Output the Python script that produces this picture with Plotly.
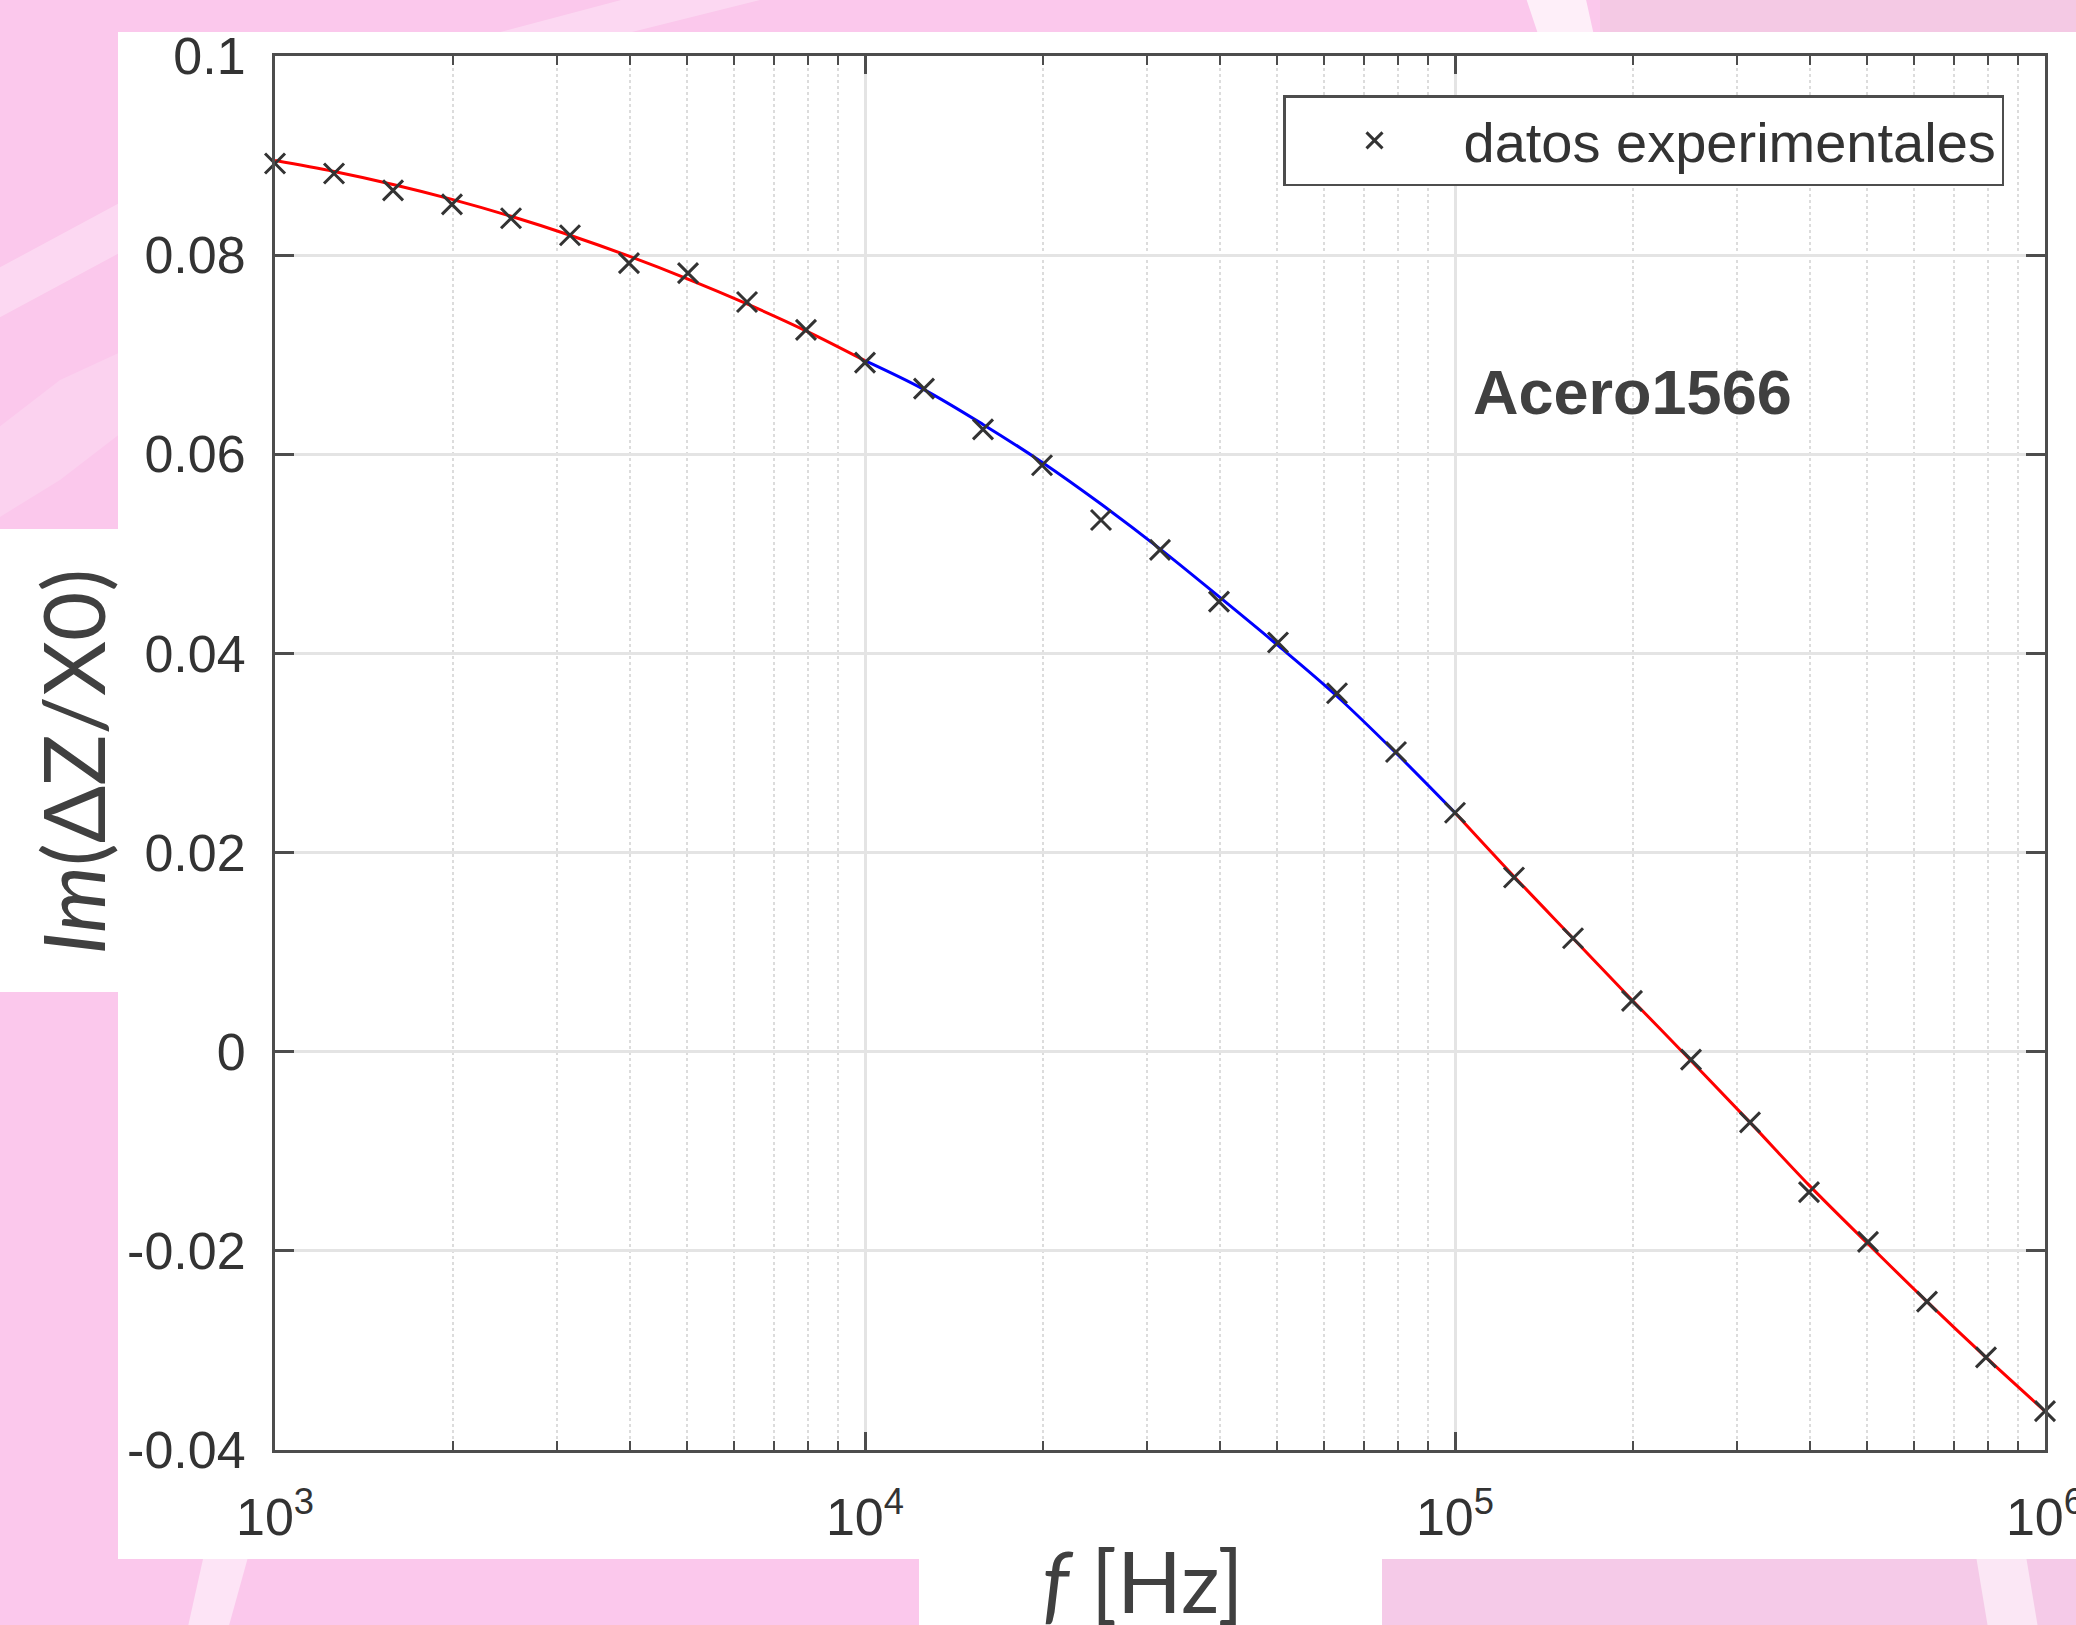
import plotly.graph_objects as go

# ---------------- data ----------------
freq_hz = [1000, 1259, 1585, 1995, 2512, 3162, 3981, 5012, 6310, 7943,
           10000, 12589, 15849, 19953, 25119, 31623, 39811, 50119, 63096, 79433,
           100000, 125893, 158489, 199526, 251189, 316228, 398107, 501187, 630957, 794328,
           1000000]

im_datos = [0.0892, 0.0882, 0.0865, 0.0851, 0.0837, 0.0820, 0.0792, 0.0782, 0.0753, 0.0725,
            0.0692, 0.0666, 0.0625, 0.0589, 0.0534, 0.0504, 0.0452, 0.0411, 0.0360, 0.0301,
            0.0240, 0.0175, 0.0114, 0.0051, -0.0008, -0.0071, -0.0141, -0.0191, -0.0251, -0.0307,
            -0.0361]

# fitted curve, three ranges (red / blue / red)
fit_lo_freq = freq_hz[0:11]
fit_lo_vals = [0.0895, 0.0884, 0.0871, 0.0856, 0.0839, 0.0820, 0.0799, 0.0776, 0.0751, 0.0724, 0.0694]
fit_mid_freq = freq_hz[10:21]
fit_mid_vals = [0.0694, 0.0665, 0.0630, 0.0592, 0.0550, 0.0505, 0.0457, 0.0408, 0.0357, 0.0300, 0.0240]
fit_hi_freq = freq_hz[20:31]
fit_hi_vals = [0.0240, 0.0176, 0.0114, 0.0052, -0.0009, -0.0071, -0.0134, -0.0193, -0.0251, -0.0307, -0.0361]

y_tick_vals = [-0.04, -0.02, 0, 0.02, 0.04, 0.06, 0.08, 0.1]
y_tick_text = ["-0.04", "-0.02", "0", "0.02", "0.04", "0.06", "0.08", "0.1"]
x_tick_vals = [1e3, 1e4, 1e5, 1e6]
x_tick_text = ["10<sup>3</sup>", "10<sup>4</sup>", "10<sup>5</sup>", "10<sup>6</sup>"]
x_minor_vals = [m * 10 ** e for e in (3, 4, 5) for m in range(2, 10)]

legend_label = "datos experimentales"
material_label = "Acero1566"
x_title = "<i>f</i> [Hz]"
y_title = "<i>Im</i>(ΔZ/X0)"

# ---------------- layout geometry (pixels) ----------------
W, H = 2076, 1625
L, R, T, B = 275, 2045, 56, 1450
PW, PH = R - L, B - T


def px(x):
    return (x - L) / PW


def py(y):
    return (B - y) / PH


def poly(points):
    return "M " + " L ".join(f"{px(a):.5f},{py(b):.5f}" for a, b in points) + " Z"


PINK = "#FBC8EC"
AX = "#4d4d4d"
TXT = "#333333"
TICKFONT = dict(family="Liberation Sans, Arial, sans-serif", size=52, color=TXT)

fig = go.Figure()

fig.add_trace(go.Scatter(x=fit_lo_freq, y=fit_lo_vals, mode="lines",
                         line=dict(color="#ff0000", width=3, shape="spline"), showlegend=False,
                         cliponaxis=False))
fig.add_trace(go.Scatter(x=fit_mid_freq, y=fit_mid_vals, mode="lines",
                         line=dict(color="#0000ff", width=3, shape="spline"), showlegend=False))
fig.add_trace(go.Scatter(x=fit_hi_freq, y=fit_hi_vals, mode="lines",
                         line=dict(color="#ff0000", width=3, shape="spline"), showlegend=False,
                         cliponaxis=False))
fig.add_trace(go.Scatter(x=freq_hz, y=im_datos, mode="markers", name=legend_label,
                         marker=dict(symbol="x-thin", size=20, color="#333333",
                                     line=dict(width=3, color="#333333")),
                         cliponaxis=False))


def deco(points, color="white", opacity=0.5):
    return dict(type="path", xref="paper", yref="paper", path=poly(points),
                fillcolor=color, opacity=opacity, line=dict(width=0), layer="below")


shapes = [
    # subtle tint variations / light streaks in the pink backdrop
    deco([(1600, -5), (2090, -5), (2090, 40), (1600, 40)], "#F3C9E2", 0.8),
    deco([(1040, 1550), (2090, 1550), (2090, 1640), (1040, 1640)], "#F2CBE6", 0.6),
    deco([(640, -5), (780, -5), (600, 40), (470, 40)], "white", 0.3),
    deco([(1525, -5), (1585, -5), (1595, 40), (1540, 40)], "white", 0.7),
    deco([(-5, 320), (-5, 270), (125, 200), (125, 250)], "white", 0.3),
    deco([(-5, 430), (60, 380), (125, 350), (125, 430), (60, 480), (-5, 520)], "white", 0.18),
    deco([(205, 1550), (250, 1550), (225, 1640), (185, 1640)], "white", 0.5),
    deco([(1975, 1550), (2025, 1550), (2040, 1640), (1990, 1640)], "white", 0.55),
    # white card behind the chart
    dict(type="rect", xref="paper", yref="paper", x0=px(118), x1=px(2100), y0=py(1559), y1=py(32),
         fillcolor="white", line=dict(width=0), layer="below"),
    # white patch behind y-title
    dict(type="rect", xref="paper", yref="paper", x0=px(-10), x1=px(120), y0=py(992), y1=py(529),
         fillcolor="white", line=dict(width=0), layer="below"),
    # white patch behind x-title
    dict(type="rect", xref="paper", yref="paper", x0=px(919), x1=px(1382), y0=py(1640), y1=py(1557),
         fillcolor="white", line=dict(width=0), layer="below"),
]

annotations = [
    dict(text="<b>" + material_label + "</b>", xref="paper", yref="paper", x=px(1471), y=py(392),
         xanchor="left", yanchor="middle", showarrow=False,
         font=dict(family="Liberation Sans, Arial, sans-serif", size=63, color="#404040")),
    dict(text=x_title, xref="paper", yref="paper", x=px(1143), y=py(1580),
         xanchor="center", yanchor="middle", showarrow=False,
         font=dict(family="Lato, Noto Sans, sans-serif", size=85, color="#404040")),
    dict(text=y_title, xref="paper", yref="paper", x=px(72), y=py(762), textangle=-90,
         xanchor="center", yanchor="middle", showarrow=False,
         font=dict(family="Lato, Noto Sans, sans-serif", size=85, color="#404040")),
]

fig.update_layout(
    width=W, height=H, autosize=False,
    margin=dict(l=L, r=W - R, t=T, b=H - B, pad=0, autoexpand=False),
    paper_bgcolor=PINK, plot_bgcolor="white",
    shapes=shapes, annotations=annotations,
    showlegend=True,
    legend=dict(x=px(2004), y=py(95), xanchor="right", yanchor="top",
                bgcolor="white", bordercolor=AX, borderwidth=2.5,
                font=dict(family="Liberation Sans, Arial, sans-serif", size=56, color=TXT),
                itemwidth=168),
    xaxis=dict(type="log", range=[2.99999, 6.00001], tickvals=x_tick_vals, ticktext=x_tick_text,
               automargin=False,
               ticks="inside", ticklen=18, tickwidth=2.5, tickcolor=AX,
               showline=True, linecolor=AX, linewidth=3, mirror="allticks",
               showgrid=True, gridcolor="#e4e4e4", gridwidth=2.5, zeroline=False,
               tickfont=TICKFONT, ticklabelstandoff=20, ticklabeloverflow="allow",
               minor=dict(tickvals=x_minor_vals, ticks="inside", ticklen=9, tickwidth=2,
                          tickcolor=AX, showgrid=True, gridcolor="#dcdcdc", griddash="dot",
                          gridwidth=2)),
    yaxis=dict(range=[-0.04, 0.1], tickvals=y_tick_vals, ticktext=y_tick_text,
               automargin=False,
               ticks="inside", ticklen=19, tickwidth=2.5, tickcolor=AX,
               showline=True, linecolor=AX, linewidth=3, mirror="allticks",
               showgrid=True, gridcolor="#e4e4e4", gridwidth=2.5, zeroline=False,
               tickfont=TICKFONT, ticklabelstandoff=16),
)

fig.write_html("out.html", config={"displayModeBar": False},
               post_script="document.body.style.margin='0px';document.body.style.overflow='hidden';")
